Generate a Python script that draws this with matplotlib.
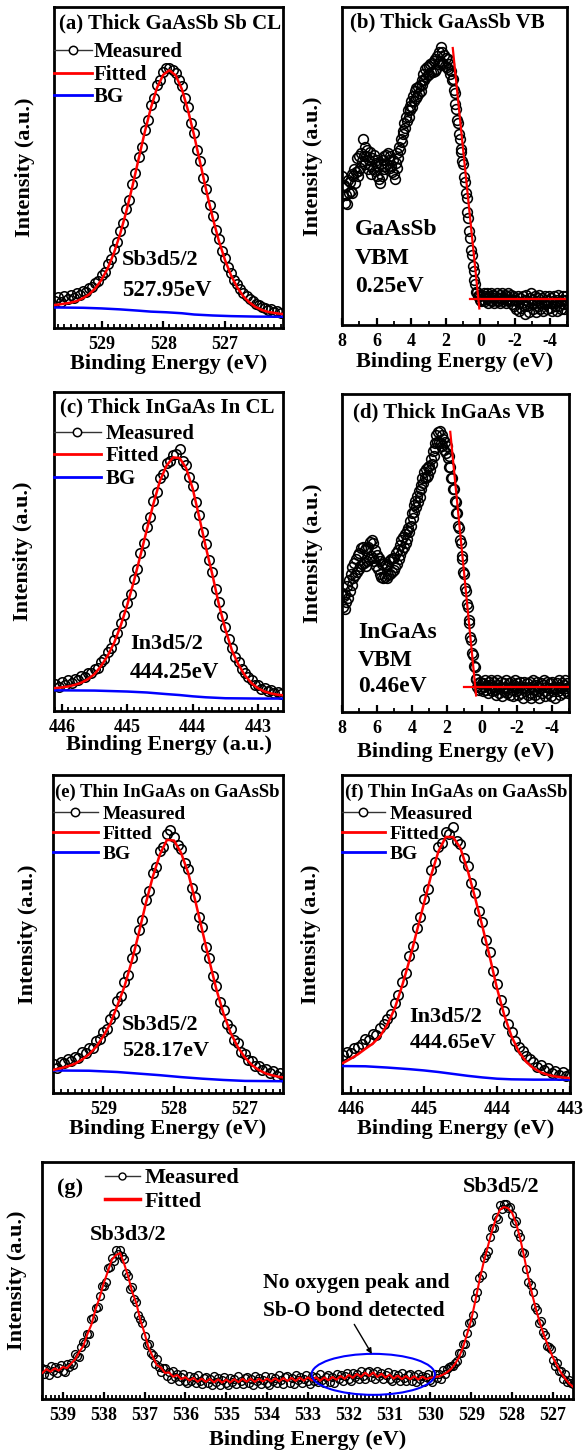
import numpy as np
import matplotlib
matplotlib.use('Agg')
import matplotlib.pyplot as plt
from matplotlib.lines import Line2D
from matplotlib.patches import Ellipse
from matplotlib.ticker import MultipleLocator, FormatStrFormatter

plt.rcParams['font.family'] = ['Liberation Serif', 'DejaVu Serif']
plt.rcParams['font.weight'] = 'bold'
plt.rcParams['axes.labelweight'] = 'bold'
plt.rcParams['axes.unicode_minus'] = False

# ---------------- data (intensity in % of panel height) ----------------
# (a) Thick GaAsSb, Sb3d5/2 core level
a_meas_E = (529.75, 526.10)
a_meas_I = [8.5, 9.6, 8.2, 9.9, 9.1, 10.4, 9.5, 10.8, 10.2, 11.5,
            11.3, 12.6, 12.8, 14.1, 14.6, 16.4, 17.5, 19.8, 21.6, 24.5,
            26.9, 30.1, 32.6, 37.0, 40.0, 45.0, 48.2, 53.4, 56.5, 61.8,
            64.9, 69.5, 71.7, 75.8, 77.2, 79.6, 80.9, 81.1, 80.4, 79.3,
            77.3, 75.5, 71.6, 68.8, 63.9, 60.7, 55.5, 51.9, 46.8, 43.3,
            38.3, 35.0, 30.6, 27.8, 24.1, 21.9, 19.0, 17.2, 15.1, 13.8,
            12.1, 10.9, 10.1, 8.9, 8.5, 7.6, 7.3, 6.4, 6.3, 5.5,
            5.8, 5.0, 5.2, 4.6]
a_fit_E = (529.8, 526.0)
a_fit_I = [7.1, 7.3, 7.6, 7.9, 8.4, 9.3, 10.5, 12.4, 15.0, 18.6, 23.3, 29.2, 36.2,
           44.1, 52.6, 61.0, 68.6, 74.9, 78.9, 80.3, 78.7, 74.5, 67.9, 60.0, 51.3,
           42.6, 34.4, 27.2, 21.2, 16.3, 12.6, 9.8, 7.9, 6.5, 5.6, 5.0, 4.7, 4.4, 4.3]
a_bg_E = [529.8, 529.3, 529.0, 528.7, 528.4, 528.2, 527.95, 527.7, 527.5, 527.2, 526.9, 526.5, 526.0]
a_bg_I = [6.4, 6.3, 6.1, 5.8, 5.4, 5.1, 4.9, 4.6, 4.2, 3.9, 3.7, 3.55, 3.5]

# (b) Thick GaAsSb valence band
b_meas_E = (8.0, -5.0)
b_meas_I = [47, 41, 44, 38.5, 43.5, 41, 38, 45.5, 41.5, 45,
            42, 47.5, 41.5, 47, 49, 44.5, 48, 52.5, 47, 48.5,
            53, 49.5, 54, 51.5, 58.5, 53, 56, 50.5, 53, 55,
            49, 52, 54.5, 50, 47.5, 52.5, 49, 53.5, 48.5, 51,
            47, 52, 50, 46, 44.5, 50.5, 47, 52, 49, 53,
            50, 53.5, 50.5, 54, 52, 49.5, 53, 50, 48, 52,
            47.5, 46, 51, 49.5, 54, 52.5, 56, 55, 58.5, 57.5,
            61, 60, 63.5, 62, 65.5, 64, 67.5, 65.5, 69, 67.5,
            70.5, 68.5, 72, 70.5, 73.5, 71.5, 74.5, 72, 75, 73,
            75.5, 73.5, 77, 75.5, 79, 77, 80.5, 78, 81, 78.5,
            81.5, 79, 82, 79.5, 82.5, 79.5, 83, 80, 83.5, 80.5,
            84.5, 82, 86, 83, 87.5, 82.5, 86, 82, 85, 81.5,
            84, 81, 83.5, 80.5, 82, 79, 80, 77, 77.5, 74,
            73, 69.5, 68, 64.5, 63.5, 60, 58.5, 55.5, 54.5, 51.5,
            50.5, 46.5, 45, 41.5, 40, 35.5, 33.5, 29.5, 27.5, 23.5,
            22, 18.5, 17, 14, 13, 10.5, 10.5, 9, 9.5, 8,
            9,
            7.5, 9.5, 8, 10, 7.5, 9, 8.5, 10, 7, 9,
            8, 10, 7.5, 8.5, 9.5, 7, 9, 8, 10, 7.5,
            8.5, 9.5, 7, 8.5, 10, 7.5, 8.5, 9.5, 8, 7,
            9, 10, 7.5, 8, 9.5, 6.5, 8, 9, 6, 8,
            5, 7.5, 9, 4.5, 7, 8.5, 5.5, 7, 9, 6,
            3.5, 8, 9.5, 6, 7.5, 4, 8.5, 10, 6.5, 8,
            5, 7, 9, 4, 7.5, 8.5, 6, 9.5, 5, 7,
            8.5, 4.5, 7, 9, 6.5, 8, 5, 7.5, 9, 5.5,
            7, 8.5, 4.5, 7.5, 9, 6, 7, 4.5, 8, 9.5,
            6, 7.5, 5, 8, 9, 6.5, 5, 8, 9, 6.5]
b_edge_E = [1.60, 0.065]
b_edge_I = [87.1, 5.2]
b_base_E = [0.60, -4.87]
b_base_I = [8.1, 8.1]

# (c) Thick InGaAs, In3d5/2 core level
c_meas_E = (446.10, 442.65)
c_meas_I = [8.5, 7.6, 9.0, 8.2, 9.6, 8.9, 10.1, 9.6, 11.0, 10.6,
            12.0, 11.9, 13.3, 13.6, 15.4, 16.2, 18.4, 19.6, 22.3, 24.4,
            27.6, 30.2, 34.0, 36.8, 41.3, 44.5, 49.4, 52.6, 57.6, 60.8,
            65.8, 68.5, 72.9, 74.4, 77.7, 78.3, 80.2, 80.6, 82.0, 78.4,
            77.0, 73.3, 70.5, 65.6, 61.5, 56.2, 52.3, 47.3, 43.7, 38.4,
            34.3, 29.8, 26.4, 22.5, 19.9, 17.0, 15.4, 13.2, 12.0, 10.6,
            9.8, 8.3, 8.2, 7.0, 7.1, 6.2, 6.5, 5.6, 6.0, 5.4]
c_fit_E = (446.2, 442.6)
c_fit_I = [7.1, 7.2, 7.4, 7.7, 8.2, 8.9, 10.0, 11.6, 14.1, 17.3, 21.4,
           26.8, 33.3, 40.6, 48.7, 56.9, 65.0, 72.2, 76.9, 79.5, 79.3,
           76.1, 69.7, 60.7, 51.4, 42.8, 33.4, 25.5, 19.0, 14.5, 11.1,
           8.7, 7.1, 6.1, 5.5, 5.1, 4.9]
c_bg_E = [446.2, 445.5, 445.0, 444.7, 444.4, 444.2, 444.0, 443.8, 443.5, 443.0, 442.6]
c_bg_I = [6.5, 6.4, 6.1, 5.8, 5.3, 5.0, 4.6, 4.3, 4.0, 3.9, 3.9]

# (d) Thick InGaAs valence band
d_meas_E = (8.0, -5.0)
d_meas_I = [37.5, 33, 36.5, 32.5, 37, 34.5, 39.5, 36, 41.5, 38,
            43.5, 40, 45.5, 42, 47, 43, 48, 44, 49.5, 45,
            50, 46, 51.5, 46.5, 52, 47, 51, 46, 51.5, 47.5,
            52, 48, 53.5, 49, 54, 48.5, 53, 47.5, 51, 46,
            49.5, 45, 48.5, 43.5, 47.5, 42.5, 46.5, 42, 47, 42.5,
            46.5, 42, 46, 43, 47.5, 43.5, 48, 44, 48.5, 44.5,
            48.5, 45.5, 50, 46.5, 51, 48, 52.5, 49.5, 54, 51,
            55, 52, 56, 53, 57, 54.5, 58, 56.5, 60, 58.5,
            62.5, 61, 65, 63, 66.5, 64.5, 68, 66, 69.5, 67.5,
            71.5, 70, 73.5, 72, 75.5, 73.5, 76.5, 74, 77, 74.5,
            77.5, 76, 79.5, 78, 82, 80.5, 84.5, 83, 87, 85,
            88, 85, 88.5, 84.5, 87, 83.5, 86, 82.5, 85, 81.5,
            83.5, 80, 80.5, 77, 77, 73.5, 73.5, 70, 70, 66.5,
            66, 62.5, 62.5, 58.5, 58, 54, 53, 49, 48, 44,
            43.5, 39, 38, 34, 33, 29, 28, 23.5, 22.5, 18.5,
            18, 14.5, 14, 10.5, 10.5, 8, 9, 7, 9.5, 7.5,
            9,
            6.5, 9, 8, 10, 7, 8.5, 6, 9.5, 7.5, 8.5,
            10, 6.5, 8, 9.5, 7, 5.5, 8.5, 10, 7.5, 6,
            8, 9.5, 5, 7.5, 9, 6.5, 8, 10, 6, 7.5,
            9, 5.5, 8, 9.5, 7, 5, 8.5, 10, 6.5, 7.5,
            9, 5.5, 8, 9.5, 6, 7.5, 4.5, 8, 9.5, 6.5,
            7.5, 9, 5.5, 8, 9.5, 6, 4.5, 8, 10, 7,
            5.5, 8.5, 9.5, 6.5, 8, 4.5, 7.5, 9, 6, 8.5,
            10, 6.5, 5, 8, 9.5, 6, 7.5, 9, 5, 7.5,
            9.5, 6.5, 8, 4.5, 7.5, 9, 6.5, 8, 10, 5.5,
            7.5, 9, 6, 8.5, 10, 6.5, 7.5, 9, 6, 8]
d_edge_E = [1.80, 0.32]
d_edge_I = [88.1, 5.2]
d_base_E = [1.00, -5.0]
d_base_I = [7.9, 7.9]

# (e) Thin InGaAs on GaAsSb, Sb3d5/2
e_meas_E = (529.70, 526.45)
e_meas_I = [9.0, 8.0, 9.8, 9.4, 10.6, 10.0, 11.4, 11.0, 12.8, 12.6,
            14.3, 14.2, 16.4, 17.0, 19.2, 20.0, 23.3, 25.0, 28.9, 30.4,
            34.8, 37.2, 42.5, 45.4, 51.2, 54.4, 60.6, 63.6, 69.2, 71.2,
            76.2, 77.5, 81.4, 82.6, 80.6, 78.0, 76.6, 72.2, 70.3, 64.6,
            61.6, 55.4, 52.1, 46.0, 42.6, 36.8, 33.6, 28.5, 26.0, 21.8,
            20.0, 16.6, 15.6, 13.0, 12.4, 10.5, 10.0, 8.4, 8.5, 7.2,
            7.6, 6.2, 6.8, 5.5, 6.2, 5.1]
e_fit_E = (529.8, 526.4)
e_fit_I = [7.2, 7.3, 7.8, 8.4, 9.2, 10.5, 12.2, 14.5, 17.8, 21.8, 27.5, 33.5,
           41.2, 50.0, 59.5, 68.0, 75.0, 79.6, 79.4, 75.5, 69.2, 60.5, 51.0,
           41.5, 32.5, 24.9, 18.9, 14.5, 11.2, 8.8, 7.2, 6.1, 5.5, 5.0, 4.8]
e_bg_E = [529.8, 529.2, 528.8, 528.5, 528.2, 527.9, 527.6, 527.3, 527.0, 526.4]
e_bg_I = [7.1, 7.0, 6.6, 6.1, 5.6, 5.0, 4.5, 4.1, 3.8, 3.7]

# (f) Thin InGaAs on GaAsSb, In3d5/2
f_meas_E = (446.10, 443.00)
f_meas_I = [11.8, 12.9, 12.5, 14.0, 14.6, 15.4, 17.0, 16.8, 18.6, 18.2,
            20.5, 21.6, 23.2, 25.0, 28.4, 30.8, 35.0, 37.6, 43.2, 46.2,
            52.0, 55.3, 61.0, 64.2, 70.0, 72.6, 77.4, 78.6, 82.2, 81.5,
            83.5, 79.4, 78.4, 73.8, 71.4, 65.9, 62.8, 57.2, 53.8, 48.0,
            44.2, 38.3, 34.4, 29.2, 25.8, 21.8, 19.2, 16.5, 14.6, 13.2,
            11.5, 10.6, 9.6, 8.2, 8.8, 7.2, 7.8, 6.4, 7.0, 5.8,
            6.6, 5.5, 6.0]
f_fit_E = (446.2, 443.0)
f_fit_I = [9.0, 9.5, 10.8, 12.2, 13.9, 15.5, 17.8, 21.5, 26.5, 33.5, 41.5, 50.5,
           59.5, 68.5, 76.0, 80.5, 80.5, 77.0, 70.0, 61.5, 52.5, 43.0, 33.0,
           24.5, 17.8, 13.0, 9.8, 7.8, 6.5, 5.7, 5.2, 4.9, 4.7]
f_bg_E = [446.2, 445.8, 445.5, 445.2, 445.0, 444.8, 444.6, 444.4, 444.2, 444.0, 443.8, 443.5, 443.0]
f_bg_I = [8.5, 8.4, 8.0, 7.5, 7.1, 6.6, 6.0, 5.4, 4.9, 4.5, 4.3, 4.2, 4.2]

# (g) Sb3d wide scan
g_meas_E = (539.5, 526.5)
g_meas_I = [13.1, 10.6, 12.5, 10.2, 14.0, 11.8, 13.4, 11.0, 12.9, 14.5,
            12.0, 11.3, 14.6, 13.3, 15.4, 14.4, 19.0, 18.1, 17.9, 22.1,
            24.1, 23.6, 27.6, 27.6, 33.6, 34.2, 38.6, 38.8, 43.3, 47.5,
            47.5, 49.4, 55.3, 55.7, 59.4, 58.4, 63.0, 61.1, 62.7, 60.5,
            59.0, 53.2, 51.9, 46.6, 47.4, 42.4, 41.1, 35.3, 33.8, 32.2,
            26.4, 22.8, 23.3, 19.2, 18.5, 14.8, 16.8, 13.6, 11.2, 13.2,
            13.0, 9.9, 11.2, 8.5, 11.9, 9.4, 10.6, 7.8, 9.3, 10.5,
            7.6, 6.6, 9.7, 7.7, 9.1, 6.7, 10.0, 7.75, 6.3, 8.9,
            9.4, 6.65, 8.4, 5.95, 9.6, 7.25, 8.7, 6.1, 7.9, 9.3,
            6.6, 5.7, 8.9, 7.05, 8.6, 6.35, 9.8, 7.65, 6.3, 8.9,
            9.4, 6.7, 8.5, 6.1, 9.8, 7.5, 9.0, 6.4, 8.2, 9.6,
            6.9, 6.05, 9.3, 7.4, 8.9, 6.65, 10.1, 7.9, 6.5, 9.1,
            9.6, 6.9, 8.7, 6.35, 10.1, 7.85, 9.4, 6.8, 8.6, 10.05,
            7.4, 6.5, 9.7, 7.8, 9.3, 7.0, 10.4, 8.2, 6.8, 9.45,
            10.0, 7.35, 9.2, 6.9, 10.7, 8.5, 10.1, 7.6, 9.5, 11.0,
            8.4, 7.6, 10.9, 9.1, 10.7, 8.5, 12.0, 9.9, 8.6, 11.3,
            11.9, 9.15, 10.9, 8.4, 12.0, 9.6, 11.0, 8.3, 10.0, 11.3,
            8.5, 7.5, 10.6, 8.65, 10.1, 7.75, 11.1, 8.85, 7.4, 9.95,
            10.4, 7.7, 9.5, 7.05, 10.7, 8.4, 9.9, 7.3, 9.1, 10.55,
            7.9, 7.1, 10.4, 8.7, 10.4, 8.45, 12.2, 10.5, 12.6, 13.4,
            14.1, 14.0, 15.4, 15.9, 19.5, 19.4, 23.1, 23.25, 27.8, 32.2,
            32.5, 35.6, 42.8, 45.15, 50.9, 52.35, 59.5, 60.55, 62.4, 68.25,
            72.0, 72.05, 76.6, 76.1, 81.7, 80.0, 82.1, 82.25, 80.8, 81.2,
            77.5, 74.35, 75.3, 70.15, 68.4, 62.1, 61.5, 55.05, 49.4, 48.25,
            45.0, 38.95, 37.4, 32.1, 32.9, 28.1, 27.1, 22.25, 21.8, 21.2,
            16.5, 13.85, 15.3, 11.9, 11.9, 8.35, 10.5, 7.3, 8.1, 6.75,
            6.5]
g_fit_E = (539.5, 526.5)
g_fit_I = [11.0, 12.6, 11.5, 12.9, 12.0, 13.5, 13.0, 14.9, 16.7, 19.8,
           22.3, 27.3, 31.4, 37.8, 42.7, 48.8, 53.7, 58.8, 60.7, 61.6,
           57.1, 51.7, 45.1, 40.4, 33.1, 27.8, 21.6, 18.0, 14.3, 13.3,
           11.0, 11.2, 9.4, 10.1, 8.4, 9.2, 7.8, 8.9, 7.3, 8.6,
           7.2, 8.5, 7.0, 8.3, 6.9, 8.2, 7.0, 8.4, 7.1, 8.5,
           7.3, 8.6, 7.2, 8.5, 7.4, 8.6, 7.4, 8.7, 7.5, 8.8,
           7.6, 8.9, 7.6, 9.0, 7.7, 9.1, 7.8, 9.2, 7.7, 9.1,
           7.9, 9.3, 8.1, 9.7, 8.5, 10.2, 8.9, 10.6, 9.3, 11.1,
           9.7, 11.2, 9.3, 10.7, 9.0, 10.3, 8.6, 9.9, 8.4, 9.7,
           8.3, 9.6, 8.2, 9.4, 8.4, 9.0,
           9.2, 9.5, 10.2, 11.2, 12.6, 14.8, 17.6, 22.0, 27.5, 33.5,
           41.5, 50.0, 57.5, 64.0, 70.5, 76.0, 79.8, 81.0, 80.5, 78.5,
           74.0, 67.5, 59.5, 51.0, 43.5, 36.8, 31.0, 26.0, 21.5, 17.5,
           14.0, 11.0, 8.5, 6.5, 5.0]
g_oval_center = (531.4, 10.4)
g_oval_size = (3.02, 17.3)

legend_labels = ['Measured', 'Fitted', 'BG']

# ---------------- figure ----------------
W, H = 584, 1452
fig = plt.figure(figsize=(W / 100, H / 100), dpi=100)


def add_ax(x0, y0, x1, y1):
    return fig.add_axes([x0 / W, 1 - y1 / H, (x1 - x0) / W, (y1 - y0) / H])


def style(ax, xlim, major, minor, xlabel, ylab_x, xlab_y, pad=5.5):
    ax.set_xlim(*xlim)
    ax.set_ylim(0, 100)
    ax.set_yticks([])
    ax.xaxis.set_major_locator(MultipleLocator(major))
    ax.xaxis.set_minor_locator(MultipleLocator(minor))
    ax.xaxis.set_major_formatter(FormatStrFormatter('%d'))
    ax.tick_params(axis='x', which='both', direction='in', top=False, bottom=True,
                   labelsize=13, pad=pad)
    ax.tick_params(axis='x', which='major', length=5, width=1.6)
    ax.tick_params(axis='x', which='minor', length=3, width=1.3)
    for s in ax.spines.values():
        s.set_linewidth(2.0)
    ax.set_xlabel(xlabel, fontsize=16)
    ax.xaxis.label.set_verticalalignment('center')
    ax.xaxis.set_label_coords(0.5, xlab_y)
    ax.set_ylabel('Intensity (a.u.)', fontsize=16)
    ax.yaxis.label.set_verticalalignment('center')
    ax.yaxis.set_label_coords(ylab_x, 0.5)


def plot_meas(ax, Erange, I, ms=6.8, mew=1.15):
    E = np.linspace(Erange[0], Erange[1], len(I))
    ax.plot(E, I, ls='none', marker='o', ms=ms, mfc='none', mec='black', mew=mew, zorder=2)


def plot_line(ax, Erange, I, color, lw, z=3):
    E = np.linspace(Erange[0], Erange[1], len(I))
    ax.plot(E, I, color=color, lw=lw, zorder=z, solid_joinstyle='round')


def cl_legend(ax, top, fs, hl, tp, x0=0.0, ms=6):
    hm = Line2D([], [], color='#333333', lw=1.0, marker='o', ms=ms, mfc='white', mec='black', mew=1.1)
    hf = Line2D([], [], color='red', lw=2.0)
    hb = Line2D([], [], color='blue', lw=2.0)
    ax.legend([hm, hf, hb], legend_labels, loc='upper left', bbox_to_anchor=(x0, top),
              frameon=False, fontsize=fs, handlelength=hl, handletextpad=tp,
              labelspacing=0.12, borderpad=0, borderaxespad=0)


# (a)
ax = add_ax(54, 7, 283, 328)
plot_meas(ax, a_meas_E, a_meas_I)
plot_line(ax, a_fit_E, a_fit_I, 'red', 1.8, 4)
ax.plot(a_bg_E, a_bg_I, color='blue', lw=1.8, zorder=3)
style(ax, (529.77, 526.06), 1, 0.1, 'Binding Energy (eV)', -0.127, -0.112)
ax.text(0.02, 0.95, '(a) Thick GaAsSb Sb CL', transform=ax.transAxes, fontsize=15, va='center')
cl_legend(ax, 0.89, 15, 1.8, 0.12)
ax.text(0.297, 0.212, 'Sb3d5/2', transform=ax.transAxes, fontsize=16, va='center')
ax.text(0.297, 0.118, '527.95eV', transform=ax.transAxes, fontsize=16.5, va='center')

# (b)
ax = add_ax(342, 7, 567, 325)
plot_meas(ax, b_meas_E, b_meas_I, ms=7)
ax.plot(b_edge_E, b_edge_I, color='red', lw=1.6, zorder=4)
ax.plot(b_base_E, b_base_I, color='red', lw=1.6, zorder=4)
style(ax, (8, -5), 2, 1, 'Binding Energy (eV)', -0.129, -0.116)
ax.text(0.036, 0.95, '(b) Thick GaAsSb VB', transform=ax.transAxes, fontsize=15, va='center')
ax.text(0.058, 0.30, 'GaAsSb', transform=ax.transAxes, fontsize=17, va='center')
ax.text(0.058, 0.21, 'VBM', transform=ax.transAxes, fontsize=17, va='center')
ax.text(0.058, 0.12, '0.25eV', transform=ax.transAxes, fontsize=17, va='center')

# (c)
ax = add_ax(54, 392, 283, 711)
plot_meas(ax, c_meas_E, c_meas_I)
plot_line(ax, c_fit_E, c_fit_I, 'red', 1.8, 4)
ax.plot(c_bg_E, c_bg_I, color='blue', lw=1.8, zorder=3)
style(ax, (446.12, 442.62), 1, 0.1, 'Binding Energy (a.u.)', -0.135, -0.107)
ax.text(0.026, 0.95, '(c) Thick InGaAs In CL', transform=ax.transAxes, fontsize=15, va='center')
cl_legend(ax, 0.9, 15, 2.25, 0.25)
ax.text(0.332, 0.21, 'In3d5/2', transform=ax.transAxes, fontsize=16, va='center')
ax.text(0.332, 0.122, '444.25eV', transform=ax.transAxes, fontsize=16.5, va='center')

# (d)
ax = add_ax(342, 394, 569, 712)
plot_meas(ax, d_meas_E, d_meas_I, ms=7)
ax.plot(d_edge_E, d_edge_I, color='red', lw=1.6, zorder=4)
ax.plot(d_base_E, d_base_I, color='red', lw=1.6, zorder=4)
style(ax, (8, -5), 2, 1, 'Binding Energy (eV)', -0.128, -0.125)
ax.text(0.05, 0.943, '(d) Thick InGaAs VB', transform=ax.transAxes, fontsize=15, va='center')
ax.text(0.07, 0.25, 'InGaAs', transform=ax.transAxes, fontsize=17, va='center')
ax.text(0.07, 0.163, 'VBM', transform=ax.transAxes, fontsize=17, va='center')
ax.text(0.07, 0.08, '0.46eV', transform=ax.transAxes, fontsize=17, va='center')

# (e)
ax = add_ax(53, 775, 283, 1093)
plot_meas(ax, e_meas_E, e_meas_I)
plot_line(ax, e_fit_E, e_fit_I, 'red', 1.8, 4)
ax.plot(e_bg_E, e_bg_I, color='blue', lw=1.8, zorder=3)
style(ax, (529.71, 526.46), 1, 0.1, 'Binding Energy (eV)', -0.107, -0.112)
ax.text(0.01, 0.944, '(e) Thin InGaAs on GaAsSb', transform=ax.transAxes, fontsize=13.4, va='center')
cl_legend(ax, 0.905, 14, 2.3, 0.25)
ax.text(0.299, 0.215, 'Sb3d5/2', transform=ax.transAxes, fontsize=16, va='center')
ax.text(0.299, 0.131, '528.17eV', transform=ax.transAxes, fontsize=16, va='center')

# (f)
ax = add_ax(342, 775, 570, 1093)
plot_meas(ax, f_meas_E, f_meas_I)
plot_line(ax, f_fit_E, f_fit_I, 'red', 1.8, 4)
ax.plot(f_bg_E, f_bg_I, color='blue', lw=1.8, zorder=3)
style(ax, (446.12, 443.0), 1, 0.1, 'Binding Energy (eV)', -0.135, -0.112)
ax.text(0.012, 0.944, '(f) Thin InGaAs on GaAsSb', transform=ax.transAxes, fontsize=13.4, va='center')
cl_legend(ax, 0.905, 14, 2.2, 0.25)
ax.text(0.295, 0.24, 'In3d5/2', transform=ax.transAxes, fontsize=16, va='center')
ax.text(0.295, 0.157, '444.65eV', transform=ax.transAxes, fontsize=16, va='center')

# (g)
ax = add_ax(42, 1162, 573, 1399)
plot_meas(ax, g_meas_E, g_meas_I, ms=5.6, mew=1.0)
plot_line(ax, g_fit_E, g_fit_I, 'red', 1.5, 4)
style(ax, (539.51, 526.51), 1, 0.1, 'Binding Energy (eV)', -0.048, -0.173)
ax.add_patch(Ellipse(g_oval_center, g_oval_size[0], g_oval_size[1], fill=False,
                     edgecolor='blue', lw=1.5, zorder=5))
ax.annotate('', xy=(531.40, 18.0), xytext=(531.9, 32.5),
            arrowprops=dict(arrowstyle='-|>', color='black', lw=1.0, mutation_scale=8), zorder=6)
ax.text(534.1, 49.0, 'No oxygen peak and', fontsize=15.5, va='center', ha='left')
ax.text(534.1, 37.0, 'Sb-O bond detected', fontsize=15.5, va='center', ha='left')
ax.text(537.41, 69.0, 'Sb3d3/2', fontsize=16, va='center', ha='center')
ax.text(528.28, 89.5, 'Sb3d5/2', fontsize=16, va='center', ha='center')
ax.text(0.028, 0.89, '(g)', transform=ax.transAxes, fontsize=16, va='center')
hm = Line2D([], [], color='#333333', lw=1.0, marker='o', ms=5, mfc='white', mec='black', mew=1.0)
hf = Line2D([], [], color='red', lw=2.5)
ax.legend([hm, hf], legend_labels[:2], loc='upper left', bbox_to_anchor=(0.118, 0.975),
          frameon=False, fontsize=16, handlelength=1.6, handletextpad=0.2,
          labelspacing=0.12, borderpad=0, borderaxespad=0)

fig.savefig('out.png', dpi=100)
